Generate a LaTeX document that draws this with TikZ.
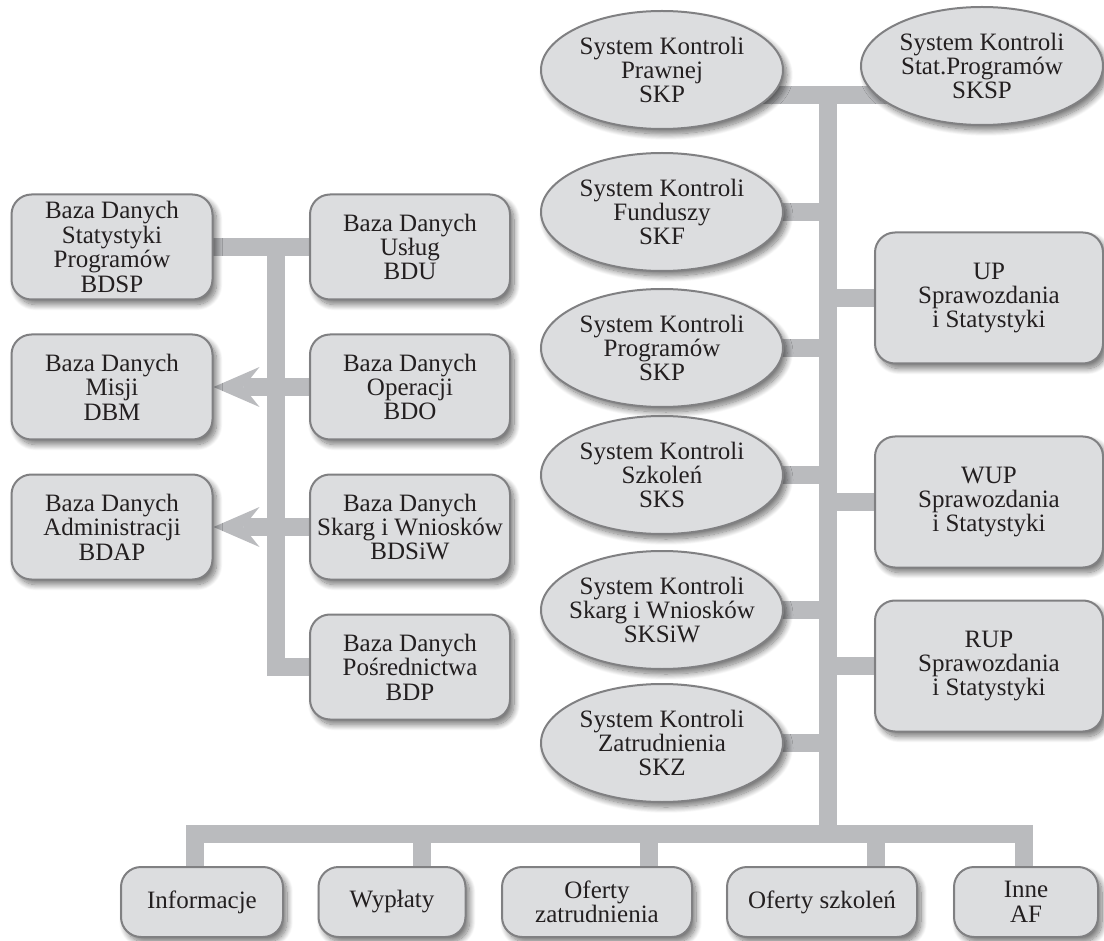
\documentclass[tikz,border=0pt]{standalone}
\usepackage{fontspec}
\setmainfont{Liberation Serif}
\usetikzlibrary{shapes.geometric,shadows.blur,arrows.meta}
\definecolor{boxfill}{RGB}{220,221,223}
\definecolor{boxline}{RGB}{128,128,130}
\definecolor{barcol}{RGB}{186,187,190}
\definecolor{ink}{RGB}{35,31,32}
\pgfdeclarelayer{background}
\pgfsetlayers{background,main}
\begin{document}
\begin{tikzpicture}[x=0.5pt,y=-0.5pt]
\tikzstyle{every node}+=[font=\fontsize{12.5}{12.2}\selectfont, text=ink, align=center]
\tikzstyle{shad}=[blur shadow={shadow xshift=2pt,shadow yshift=-2.5pt,shadow blur steps=12,shadow blur radius=3pt,shadow opacity=55}]
\tikzstyle{box}=[draw=boxline, line width=1pt, fill=boxfill, rounded corners=10pt, shad, inner sep=0pt, minimum height=52.5pt]
\tikzstyle{oval}=[ellipse, draw=boxline, line width=1pt, fill=boxfill, shad, inner xsep=-4pt, inner ysep=0pt, minimum width=121pt, minimum height=59pt]
\tikzstyle{link}=[draw=barcol, line width=9pt]
\tikzstyle{arr}=[link, -{Stealth[length=23pt,width=20pt,inset=8pt,line width=0pt]}]
\useasboundingbox (0,0) rectangle (1104,941);
\draw (112,247) node[box, minimum width=100.5pt] (bdsp) {Baza Danych\\Statystyki\\Programów\\BDSP};
\draw (112,387) node[box, minimum width=100.5pt] (dbm) {Baza Danych\\Misji\\DBM};
\draw (112,527) node[box, minimum width=100.5pt] (bdap) {Baza Danych\\Administracji\\BDAP};
\draw (410,247) node[box, minimum width=100pt] (bdu) {Baza Danych\\Usług\\BDU};
\draw (410,387) node[box, minimum width=100pt] (bdo) {Baza Danych\\Operacji\\BDO};
\draw (410,527) node[box, minimum width=100pt] (bdsiw) {Baza Danych\\Skarg i Wniosków\\BDSiW};
\draw (410,667) node[box, minimum width=100pt] (bdp) {Baza Danych\\Pośrednictwa\\BDP};
\draw (662,70) node[oval] (skpr) {System Kontroli\\Prawnej\\SKP};
\draw (982,66) node[oval] (sksp) {System Kontroli\\Stat.Programów\\SKSP};
\draw (662,212) node[oval] (skf) {System Kontroli\\Funduszy\\SKF};
\draw (662,348) node[oval] (skprog) {System Kontroli\\Programów\\SKP};
\draw (662,475) node[oval] (sks) {System Kontroli\\Szkoleń\\SKS};
\draw (662,610) node[oval] (sksiw) {System Kontroli\\Skarg i Wniosków\\SKSiW};
\draw (662,743) node[oval] (skz) {System Kontroli\\Zatrudnienia\\SKZ};
\draw (989,298) node[box, minimum width=114pt, minimum height=65.5pt] (up) {UP\\Sprawozdania\\i Statystyki};
\draw (989,502) node[box, minimum width=114pt, minimum height=65.5pt] (wup) {WUP\\Sprawozdania\\i Statystyki};
\draw (989,666) node[box, minimum width=114pt, minimum height=65.5pt] (rup) {RUP\\Sprawozdania\\i Statystyki};
\draw (202,902) node[box, minimum width=81pt, minimum height=35pt] (info) {Informacje};
\draw (392,902) node[box, minimum width=73.5pt, minimum height=35pt] (wyp) {Wypłaty};
\draw (597,902) node[box, minimum width=95pt, minimum height=35pt] (ofz) {Oferty\\zatrudnienia};
\draw (822,902) node[box, minimum width=95pt, minimum height=35pt] (ofs) {Oferty szkoleń};
\draw (1026,902) node[box, minimum width=72pt, minimum height=35pt] (inne) {Inne\\AF};
\coordinate (rtop) at (828,95);
\coordinate (rbot) at (828,834);
\coordinate (lbus) at (276,247);
\begin{pgfonlayer}{background}
\draw[link] (lbus) |- (bdp.center);
\draw[link] (bdsp.center) -- (bdu.center);
\draw[arr] (bdo.center) -- (dbm.east);
\draw[arr] (bdsiw.center) -- (bdap.east);
\draw[link] (rtop) -- (rbot);
\draw[link] (skpr.center |- rtop) -- (sksp.center |- rtop);
\foreach \n in {skf,skprog,sks,sksiw,skz,up,wup,rup}
  \draw[link] (\n.center) -- (\n -| rtop);
\draw[link] ([xshift=-3.5pt]info.north) |- (rbot) -| ([xshift=-1pt]inne.north);
\draw[link] ([xshift=15pt]wyp.north) |- (rbot);
\draw[link] ([xshift=26pt]ofz.north) |- (rbot);
\draw[link] ([xshift=27pt]ofs.north) |- (rbot);
\end{pgfonlayer}
\end{tikzpicture}
\end{document}
